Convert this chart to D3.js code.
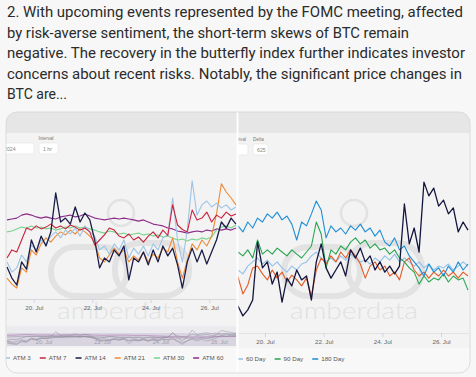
<!DOCTYPE html>
<html>
<head>
<meta charset="utf-8">
<script src="https://cdn.jsdelivr.net/npm/d3@7/dist/d3.min.js"></script>
<style>
  body { margin: 0; background: #f7f7f7; }
  svg { display: block; }
</style>
</head>
<body>
<div id="chart"></div>
<script>
var width = 476, height = 377;

var tweetLines = [
  "2. With upcoming events represented by the FOMC meeting, affected",
  "by risk-averse sentiment, the short-term skews of BTC remain",
  "negative. The recovery in the butterfly index further indicates investor",
  "concerns about recent risks. Notably, the significant price changes in",
  "BTC are..."
];
var tweetWidths = [456, 402, 458, 455, 60];

// left chart: ATM implied vol, 4-hourly samples from 19 Jul 02:00
var leftNames = ["ATM 3", "ATM 7", "ATM 14", "ATM 21", "ATM 30", "ATM 60"];
var leftColors = ["#9ec4e6", "#c9243f", "#1b1d48", "#ee8a35", "#79d58f", "#8e2b8a"];
var atm3 = [42.7,39.3,40.7,45,42.7,48.3,46.7,50,48.7,51.3,52.7,50.7,53.3,52,54,51.3,54.7,52.7,51.3,46.7,48,45.3,48.7,46.7,50,44,47.3,45.3,48,44.7,48.7,46.7,50.7,51.7,64,50,42.7,53.3,69.7,58.3,61.7,63,61,62.3,60.7,61.7,60,61];
var atm7 = [44,46.7,46,50,54,53.3,54.7,53.7,54.3,55.3,54,54.7,53.7,55,54.3,53.3,54,52.7,48.3,50,51.7,54,53.3,51.3,50.7,52,50,51,49.3,51.3,52.7,50.7,53.3,51.5,61.7,55,53.5,52.7,60,56.7,57.3,59.3,56,58.3,57.3,59.3,58,58.7];
var atm14 = [41,37.3,35,42.7,40.3,50,46,51.3,48,52.7,65.7,56,57.3,55.3,61,56,59,56.7,50,40.7,44,42.7,46.7,44.7,48,36.7,44,42.7,46,41.7,46.7,42.7,48,44.7,47.3,41.7,34,42.7,47.3,42.7,46.7,42,46,50,56,54,57.3,55.3];
var atm21 = [37.3,35.3,34,40.7,39.3,46.7,45,48.7,50.7,49.3,51.3,52.7,51.7,53.3,52,53.7,52.7,51.3,49.3,44,42.7,45,47.3,45.3,46.7,42.7,44.7,43.3,46,42.7,45.3,44,47.3,46,50.7,42.7,37.3,43.3,48.7,46.7,50,48,51.3,58.7,68.7,66,64,61.7];
var atm30 = [52.7,53,53.7,54.3,54,54.7,54,54.3,53.7,54,53.3,53.7,54.3,54,54.7,54,54.3,53.7,53.3,52.7,52.3,53,52.7,52,52.3,51.7,52,52.3,51.7,52,51.3,51.7,51,51.3,50.7,50,50.3,49.7,50.3,50,50.7,50.3,51,53.3,54.3,54.7,54,55];
var atm60 = [56.7,57,57.3,58.3,58.7,58.3,57.7,57.3,57.7,57.3,57,57.7,58,58.3,57.7,58,58.7,58,57.3,57,56.7,57,57.3,57,57.3,57,56.7,56.3,56.7,56,55.3,55,54.7,54,53.7,53,52.7,52.3,52.7,53,52.7,53.3,53,53.7,53.3,53.7,53.3,54];
var leftSeries = [atm3, atm7, atm14, atm21, atm30, atm60];
var leftOrder = [5, 4, 3, 0, 1, 2];

// right chart: constant maturity IV (first two legend items are hidden under the left panel)
var rightNames = ["7 Day", "30 Day", "60 Day", "90 Day", "180 Day"];
var rightColors = ["#14163e", "#e35b26", "#93c1ea", "#26a650", "#1b8ed6"];
var day7 = [39,35.7,37.7,41,60.3,51.7,53.7,46.3,50.3,40.3,48.3,45.7,51,47.7,49,41,53.7,59.7,51.7,48.3,51,53.7,49,57.7,55,58.3,53.7,55.7,51,53.7,50.3,52.3,49.7,52.3,73,59.7,65,57,80.3,75.7,78.3,72.3,74.3,69.7,71.7,63.7,67,64.3];
var day30 = [48.7,43,46,51.7,52.3,49.7,47.7,51,48.3,50.3,47,49.3,47.7,45.7,48.3,42.3,51,55,53,55.7,53.7,57,55,57.7,55.7,53,48.3,52.3,53.7,51,52.3,49,50.3,47.7,53.7,55,51,49,50.3,48.3,50.3,49,51,49,50.3,48.3,50.3,49];
var day60 = [51,49.7,52.3,53.7,55,53,54.3,52.3,53.7,51.7,50.3,52.3,51,53,53.7,55.7,57,55,53.7,55,53.7,55.7,54.3,56.3,55,53.7,54.3,53,55,53.7,55.7,54.3,56.3,53.7,55,53.7,52.3,53.7,51.7,53,51,52.3,51.7,53,51,52.3,53.7,52.3];
var day90 = [57,55.7,57.7,55,61,56.3,57.7,56.3,58.3,57,55.7,57.7,56.3,55,57,59,67,63,51.7,57.7,56.3,59,57.7,60.3,61.7,59.7,61,58.3,59.7,57.7,58.3,56.3,57.7,55,53.7,51.7,50.3,46.3,49,47,48.3,47.7,49.7,47,49,47.7,48.3,44.3];
var day180 = [65.7,63.7,67,65,68.3,67,69.7,68.3,70.3,67.7,69,66.3,61,67,65.7,69.7,74,71,61.7,65.7,63.7,65,63,65.7,64.3,66.3,63.7,65,62.3,64.3,60.3,59,61.7,57.7,59,55.7,53.7,51.7,49,53,50.3,51.7,49,52.3,50.3,53.7,51,53];
var rightSeries = [day7, day30, day60, day90, day180];
var rightOrder = [2, 1, 3, 4, 0];
var rightLegendFrom = 2;

var tickDays = [20, 22, 24, 26];

var t0 = new Date(2024, 6, 19, 2), t1 = new Date(2024, 6, 26, 22);
var times = d3.timeHour.range(t0, d3.timeHour.offset(t1, 1), 4);
var tickDates = tickDays.map(function(d) { return new Date(2024, 6, d); });
var fmt = d3.timeFormat("%d. %b");
var smallFont = "'Liberation Sans', Arial, sans-serif";

var svg = d3.select("#chart").append("svg")
    .attr("width", width)
    .attr("height", height);

svg.append("rect").attr("width", width).attr("height", height).attr("fill", "#f7f7f7");

svg.append("g").selectAll("text")
    .data(tweetLines)
    .enter().append("text")
    .attr("x", 7)
    .attr("y", function(d, i) { return 17 + i * 20.5; })
    .attr("font-family", "Roboto, 'Noto Sans', sans-serif")
    .attr("font-size", 14.6)
    .attr("fill", "#2b2b2b")
    .attr("textLength", function(d, i) { return tweetWidths[i]; })
    .attr("lengthAdjust", "spacingAndGlyphs")
    .text(function(d) { return d; });

var defs = svg.append("defs");
defs.append("clipPath").attr("id", "cardClip").append("rect")
    .attr("x", 6).attr("y", 112).attr("width", 464).attr("height", 261).attr("rx", 11);
defs.append("clipPath").attr("id", "leftClip").append("rect")
    .attr("x", 6).attr("y", 112).attr("width", 231).attr("height", 261);
defs.append("clipPath").attr("id", "rightClip").append("rect")
    .attr("x", 238).attr("y", 112).attr("width", 232).attr("height", 261);

var card = svg.append("g").attr("clip-path", "url(#cardClip)");
card.append("rect").attr("x", 6).attr("y", 112).attr("width", 464).attr("height", 261).attr("fill", "#f3f3f3");
card.append("rect").attr("x", 6).attr("y", 112).attr("width", 464).attr("height", 21).attr("fill", "#e6e6e6");
card.append("rect").attr("x", 6).attr("y", 348).attr("width", 464).attr("height", 30).attr("fill", "#f8f8f8");

var left = card.append("g").attr("clip-path", "url(#leftClip)");
var right = card.append("g").attr("clip-path", "url(#rightClip)");

// little input boxes of the dashboard
function inputBox(g, x, y, w, label, value, labelAnchor, labelX) {
  if (label) {
    g.append("text").attr("x", labelX).attr("y", y - 3.5)
        .attr("text-anchor", labelAnchor)
        .attr("font-family", smallFont).attr("font-size", 4.6).attr("fill", "#777")
        .text(label);
  }
  g.append("rect").attr("x", x).attr("y", y).attr("width", w).attr("height", 11).attr("rx", 2)
      .attr("fill", "#fff").attr("stroke", "#e2e2e2").attr("stroke-width", 0.6);
  g.append("text").attr("x", x + 4).attr("y", y + 7.5)
      .attr("font-family", smallFont).attr("font-size", 5.2).attr("fill", "#888")
      .text(value);
}
inputBox(left, 0, 143, 34, "", "2024", "start", 0);
inputBox(left, 39, 143, 19, "Interval", "1 hr", "start", 38.5);
inputBox(right, 225, 144, 23, "Interval", "1 hr", "end", 246);
inputBox(right, 253, 144, 15, "Delta", "625", "start", 253);

// watermark
function watermark(g, cx) {
  var wm = g.append("g").attr("fill", "none").attr("stroke", "#dadada").attr("opacity", 0.65);
  wm.append("circle").attr("cx", cx).attr("cy", 213).attr("r", 13).attr("stroke-width", 2.6);
  wm.append("rect").attr("x", cx - 70).attr("y", 247).attr("width", 76).attr("height", 49).attr("rx", 24).attr("stroke-width", 6);
  wm.append("rect").attr("x", cx - 6).attr("y", 243).attr("width", 74).attr("height", 53).attr("rx", 25).attr("stroke-width", 6);
  g.append("text").attr("x", cx).attr("y", 319)
      .attr("text-anchor", "middle")
      .attr("font-family", "Lato, 'Open Sans', sans-serif").attr("font-weight", 300)
      .attr("font-size", 23).attr("fill", "#dedede").attr("opacity", 0.85)
      .attr("textLength", 128).attr("lengthAdjust", "spacingAndGlyphs")
      .text("amberdata");
}

function legend(g, names, colors, y, startX) {
  var x = startX;
  names.forEach(function(name, i) {
    g.append("line").attr("x1", x - 3).attr("x2", x + 3).attr("y1", y).attr("y2", y)
        .attr("stroke", colors[i]).attr("stroke-width", 1.3);
    var t = g.append("text").attr("x", x + 6).attr("y", y + 2.2)
        .attr("font-family", smallFont).attr("font-size", 6.2).attr("fill", "#555")
        .text(name);
    x += 6 + t.node().getComputedTextLength() + 12;
  });
}

function styleAxis(ax, domainColor) {
  ax.select(".domain").attr("stroke", domainColor);
  ax.selectAll(".tick line").attr("stroke", "#ccd6eb");
  ax.selectAll(".tick text").attr("font-family", smallFont).attr("font-size", 6.2).attr("fill", "#666");
}

// ---- left chart ----
var xL = d3.scaleTime().domain([t0, t1]).range([7, 236]);
var yL = d3.scaleLinear().domain([30, 80]).range([300, 150]);

watermark(left, 121);

var axL = left.append("g").attr("transform", "translate(0,299)")
    .call(d3.axisBottom(xL).tickValues(tickDates).tickFormat(fmt).tickSize(4).tickSizeOuter(0));
styleAxis(axL, "#d8d8d8");

var lineL = d3.line().x(function(d, i) { return xL(times[i]); }).y(function(d) { return yL(d); });
left.append("g").selectAll("path")
    .data(leftOrder)
    .enter().append("path")
    .attr("d", function(k) { return lineL(leftSeries[k]); })
    .attr("fill", "none")
    .attr("stroke", function(k) { return leftColors[k]; })
    .attr("stroke-width", function(k) { return k === 2 ? 1.3 : 1.1; })
    .attr("stroke-linejoin", "round");

// navigator
var yN = d3.scaleLinear().domain([30, 80]).range([346, 326]);
left.append("rect").attr("x", 7).attr("y", 326).attr("width", 229).attr("height", 20).attr("fill", "#ebeaef");
left.append("rect").attr("x", 7).attr("y", 333).attr("width", 229).attr("height", 13).attr("fill", "#d9d5e0");
var lineN = d3.line().x(function(d, i) { return xL(times[i]); }).y(function(d) { return yN(d); });
left.append("g").selectAll("path")
    .data(leftOrder)
    .enter().append("path")
    .attr("d", function(k) { return lineN(leftSeries[k]); })
    .attr("fill", "none")
    .attr("stroke", function(k) { return k === 5 ? "#a25ca6" : "#8f8a9c"; })
    .attr("stroke-width", 0.6)
    .attr("opacity", 0.8);
left.append("g").selectAll("text")
    .data(tickDates)
    .enter().append("text")
    .attr("x", function(d) { return xL(d) + 2; })
    .attr("y", 344)
    .attr("font-family", smallFont).attr("font-size", 5.6).attr("fill", "#a09cab")
    .text(fmt);

legend(left, leftNames, leftColors, 358, 7);

// ---- right chart ----
var xR = d3.scaleTime().domain([t0, t1]).range([238, 468]);
var yR = d3.scaleLinear().domain([30, 91]).range([333, 150]);

watermark(right, 354);

var axR = right.append("g").attr("transform", "translate(0,333)")
    .call(d3.axisBottom(xR).tickValues(tickDates).tickFormat(fmt).tickSize(4).tickSizeOuter(0));
styleAxis(axR, "#e2e2e2");

var lineR = d3.line().x(function(d, i) { return xR(times[i]); }).y(function(d) { return yR(d); });
right.append("g").selectAll("path")
    .data(rightOrder)
    .enter().append("path")
    .attr("d", function(k) { return lineR(rightSeries[k]); })
    .attr("fill", "none")
    .attr("stroke", function(k) { return rightColors[k]; })
    .attr("stroke-width", function(k) { return k === 0 ? 1.3 : 1.1; })
    .attr("stroke-linejoin", "round");

legend(right, rightNames.slice(rightLegendFrom), rightColors.slice(rightLegendFrom), 359, 240);

// divider between the two screenshots and card outline
card.append("rect").attr("x", 236.6).attr("y", 112).attr("width", 1.8).attr("height", 261).attr("fill", "#ffffff");
svg.append("rect").attr("x", 6).attr("y", 112).attr("width", 464).attr("height", 261).attr("rx", 11)
    .attr("fill", "none").attr("stroke", "#d6d6d6").attr("stroke-width", 0.8);
</script>
</body>
</html>
